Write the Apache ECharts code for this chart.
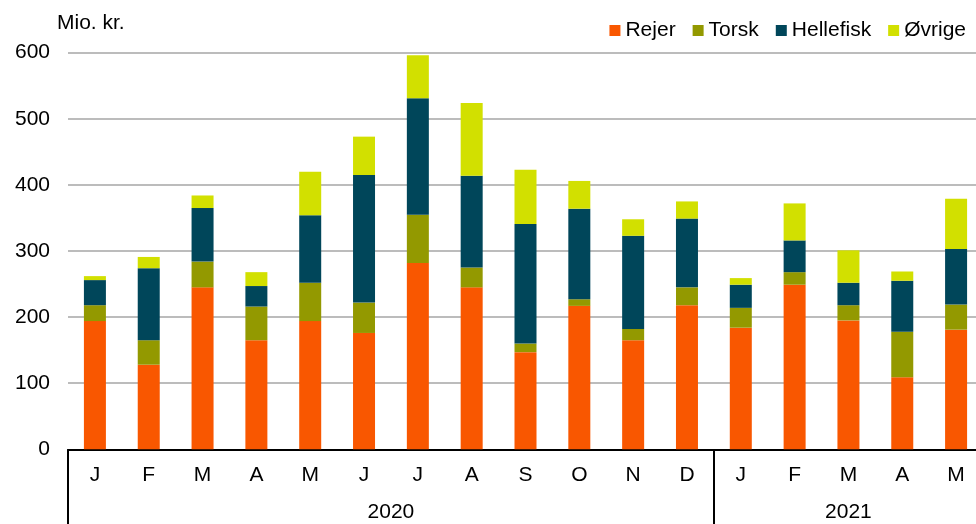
<!DOCTYPE html>
<html>
<head>
<meta charset="utf-8">
<script src="https://cdn.jsdelivr.net/npm/echarts@6/dist/echarts.min.js"></script>
<style>
html,body{margin:0;padding:0;background:#fff;overflow:hidden;width:976px;height:524px;}
#c{width:990px;height:524px;}
</style>
</head>
<body>
<div id="c"></div>
<script>
const months = ['J','F','M','A','M','J','J','A','S','O','N','D','J','F','M','A','M'];
const years = ['2020','2021'];
const yearStart = [0, 12];
const yearSpan = [12, 5];
const yTicks = [0,100,200,300,400,500,600];

const rejer     = [194,128,245,165,194,176,282,245,147,217,165,218,184,249,195,109,181];
const torsk     = [ 24, 37, 39, 51, 58, 46, 73, 30, 13, 10, 17, 27, 30, 19, 23, 69, 38];
const hellefisk = [ 38,109, 81, 31,102,193,176,139,181,137,141,104, 35, 48, 34, 77, 84];
const ovrige    = [  6, 17, 19, 21, 66, 58, 65,110, 82, 42, 25, 26, 10, 56, 49, 14, 76];

const seriesNames = ['Rejer','Torsk','Hellefisk','Øvrige'];
const colors = ['#F95700','#939900','#00465A','#D2E000'];
const seriesData = [rejer, torsk, hellefisk, ovrige];

// half-band axis for year labels and separators
const halfCount = months.length * 2 + 1;
const halfData = [];
const sepIdx = [];
for (let i = 0; i < halfCount; i++) halfData.push('');
years.forEach((y, k) => {
  halfData[yearStart[k] * 2 + yearSpan[k]] = y;
  sepIdx.push(yearStart[k] * 2);
});
sepIdx.push(months.length * 2);

const font = 'Liberation Sans, Arial, sans-serif';
const fs = 21;
const chart = echarts.init(document.getElementById('c'));
chart.setOption({
  animation: false,
  textStyle: {fontFamily: font},
  title: {
    text: 'Mio. kr.',
    left: 52, top: 8,
    textStyle: {fontFamily: font, fontSize: fs, fontWeight: 'normal', color: '#000'}
  },
  legend: {
    data: seriesNames,
    top: 15, right: 19,
    icon: 'rect',
    itemWidth: 11, itemHeight: 11,
    itemGap: 17,
    textStyle: {fontFamily: font, fontSize: fs, color: '#000'}
  },
  grid: {left: 68, top: 52.7, right: 7, bottom: 74.7, containLabel: false},
  xAxis: [{
    type: 'category',
    data: months,
    position: 'bottom',
    axisLine: {show: true, lineStyle: {color: '#000', width: 2}},
    axisTick: {show: false},
    axisLabel: {interval: 0, margin: 15, fontSize: fs, color: '#000', fontFamily: font}
  }, {
    type: 'category',
    data: halfData,
    boundaryGap: false,
    position: 'bottom',
    axisLine: {show: false},
    axisTick: {
      show: true, length: 80, inside: false,
      interval: function (idx) { return sepIdx.indexOf(idx) >= 0; },
      lineStyle: {color: '#000', width: 2}
    },
    axisLabel: {interval: 0, margin: 52, fontSize: fs, color: '#000', fontFamily: font}
  }],
  yAxis: {
    type: 'value',
    min: yTicks[0], max: yTicks[yTicks.length - 1], interval: 100,
    axisLine: {show: false},
    axisTick: {show: false},
    axisLabel: {margin: 18, fontSize: fs, color: '#000', fontFamily: font},
    splitLine: {lineStyle: {color: '#A6A6A6', width: 1.5}}
  },
  series: seriesNames.map((n, i) => ({
    name: n,
    type: 'bar',
    stack: 'total',
    xAxisIndex: 0,
    barWidth: 22,
    data: seriesData[i],
    itemStyle: {color: colors[i]}
  }))
});
</script>
</body>
</html>
